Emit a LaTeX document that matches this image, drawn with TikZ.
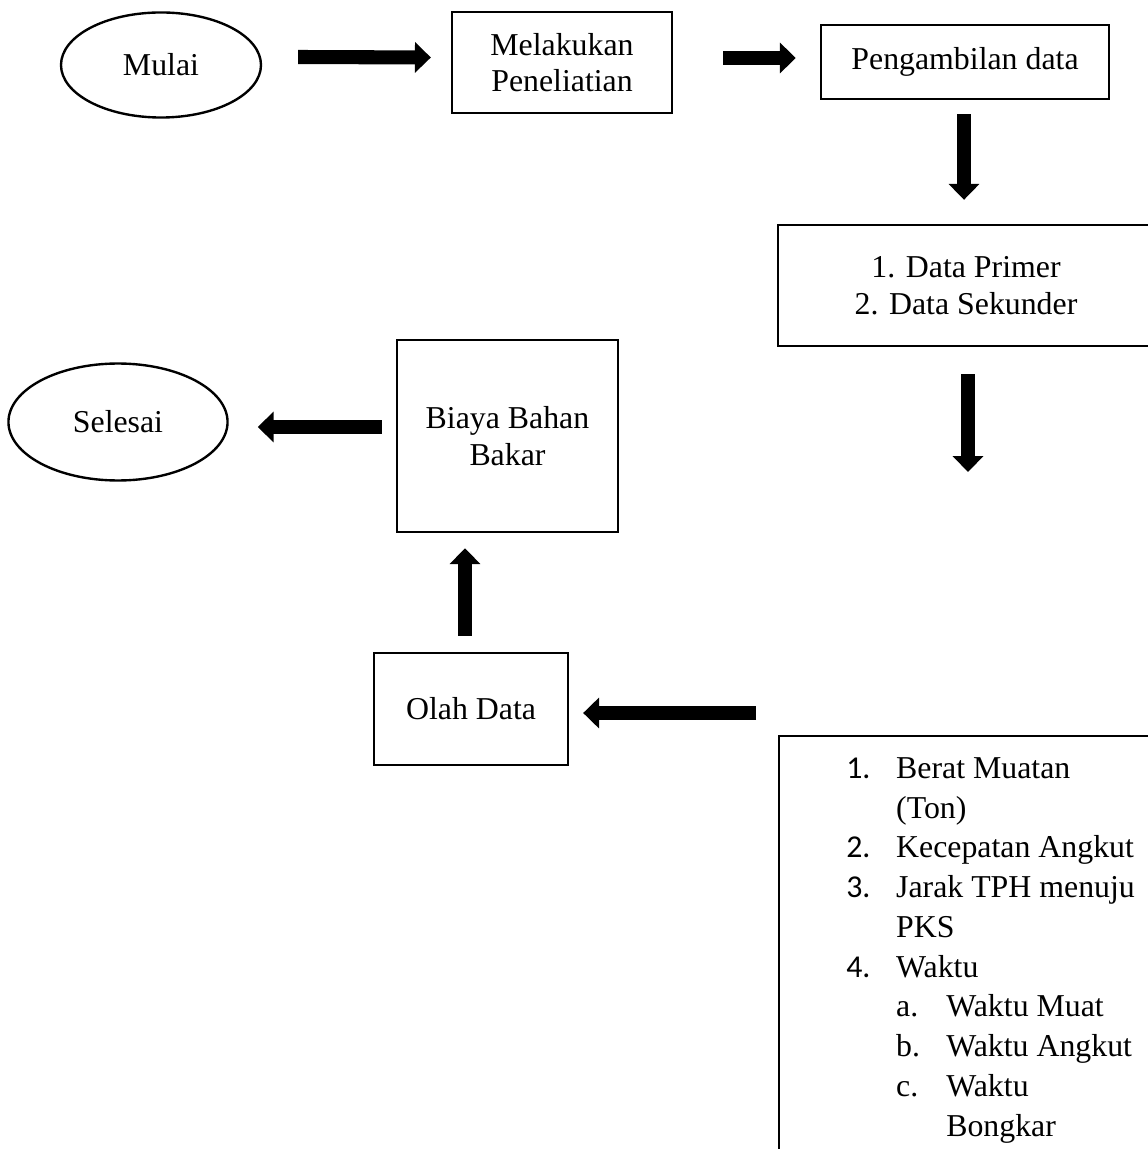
\documentclass[tikz,border=0pt]{standalone}
\usepackage{fontspec}
\setmainfont{Liberation Serif}
\newfontfamily\angka{Carlito}
\usetikzlibrary{positioning,shapes.geometric,arrows.meta}

\newcommand{\nomor}[1]{\makebox[18.8pt][l]{\angka #1}}
\newcommand{\huruf}[1]{\makebox[18.9pt][l]{#1}}

\begin{document}
\begin{tikzpicture}[x=0.377pt, y=-0.377pt,
 every node/.style={font=\fontsize{12pt}{13.8pt}\selectfont, line width=0.9pt},
 kotak/.style={draw, rectangle, align=center, inner sep=0pt},
 bulat/.style={draw, ellipse, inner sep=0pt},
 panah/.style={line width=5.3pt, -{Triangle[length=6pt, width=11.3pt]}}]
 \useasboundingbox (0,0) rectangle (1147,1149);
 \node[bulat, minimum width=75.4pt, minimum height=39.6pt] (mulai) at (161,65) {Mulai};
 \node[kotak, minimum width=82.9pt, minimum height=38.1pt] (lakukan) at (562,62.5) {Melakukan\\Peneliatian};
 \node[kotak, minimum width=108.6pt, minimum height=27.9pt] (ambil) at (965,62) {Pengambilan data};
 \node[kotak, minimum width=141.8pt, minimum height=45.6pt] (jenis) at (966,285.5) {1. Data Primer\\2. Data Sekunder};
 \node[draw, anchor=north west, inner xsep=25.3pt, inner ysep=8pt] (rincian) at (778,735)
 {\begin{minipage}[t][160pt][t]{118pt}\fontsize{12pt}{15pt}\selectfont
 \nomor{1.}Berat Muatan\\
 \hspace*{18.8pt}(Ton)\\
 \nomor{2.}Kecepatan Angkut\\
 \nomor{3.}Jarak TPH menuju\\
 \hspace*{18.8pt}PKS\\
 \nomor{4.}Waktu\\
 \hspace*{18.8pt}\huruf{a.}Waktu Muat\\
 \hspace*{18.8pt}\huruf{b.}Waktu Angkut\\
 \hspace*{18.8pt}\huruf{c.}Waktu\\
 \hspace*{37.7pt}Bongkar
 \end{minipage}};
 \node[kotak, minimum width=73.1pt, minimum height=42.2pt] (olah) at (471,709) {Olah Data};
 \node[kotak, minimum width=83.3pt, minimum height=72.4pt] (biaya) at (507.5,436) {Biaya Bahan\\Bakar};
 \node[bulat, minimum width=82.6pt, minimum height=44.1pt] (selesai) at (118,422) {Selesai};
 \coordinate (ujung) at (968,472);

 \draw[panah] ([shift={(36,-8)}]mulai.east) -- ([shift={(-20,-5)}]lakukan.west);
 \draw[panah] ([shift={(50,-4.5)}]lakukan.east) -- ([shift={(-24,-4)}]ambil.west);
 \draw[panah] ([shift={(-1,14)}]ambil.south) -- ([shift={(-2,-24)}]jenis.north);
 \draw[panah] ([shift={(2,27)}]jenis.south) -- (ujung);
 \draw[panah] ([shift={(-22,-22)}]rincian.north west) -- ([shift={(14,4)}]olah.east);
 \draw[panah] ([shift={(-6,-16)}]olah.north) -- ([shift={(-42.5,15)}]biaya.south);
 \draw[panah] ([shift={(-14,-9)}]biaya.west) -- ([shift={(29,5)}]selesai.east);
\end{tikzpicture}
\end{document}
